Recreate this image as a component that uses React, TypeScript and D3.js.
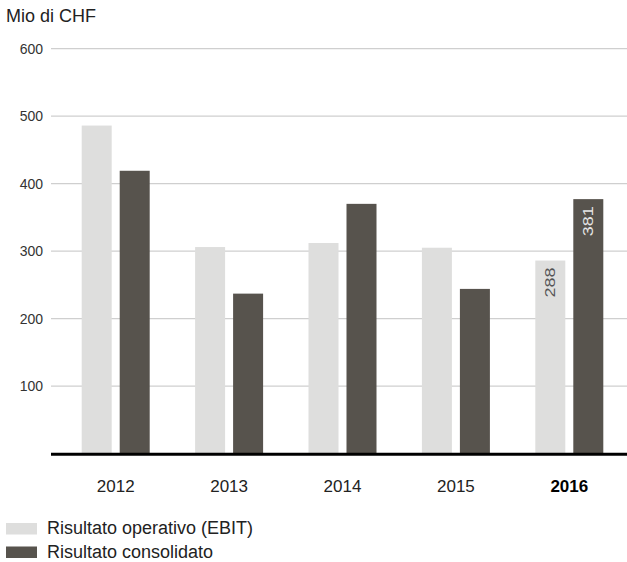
import React from 'react';
import * as d3 from 'd3';

const years = ['2012', '2013', '2014', '2015', '2016'];
const ebit = [486, 306, 312, 305, 286];
const consolidato = [419, 237, 370, 244, 377];
const barLabels2016 = ['288', '381'];
const yTicks = [100, 200, 300, 400, 500, 600];
const seriesNames = ['Risultato operativo (EBIT)', 'Risultato consolidato'];
const colors = ['#dededd', '#57534d'];

const W = 627;
const H = 562;
const font = '"Liberation Sans", Arial, sans-serif';

const App: React.FC = () => {
  const x = d3.scaleBand().domain(years).range([59, 626]);
  const sub = d3.scaleBand().domain(['ebit', 'cons']).range([-34, 34]).paddingInner(2 - 68 / 38);
  const y = d3.scaleLinear().domain([0, 600]).range([453.6, 48.6]);
  const series = [ebit, consolidato];
  const keys = ['ebit', 'cons'];

  return (
    <svg width={W} height={H} style={{ position: 'absolute', left: 0, top: 0 }} fontFamily={font}>
      <text x={6} y={22} fontSize={18} fill="#222">Mio di CHF</text>

      {/* gridlines + y labels */}
      {yTicks.map(t => (
        <g key={t}>
          <line x1={51} x2={W} y1={y(t)} y2={y(t)} stroke="#cfcfcf" strokeWidth={1.2} />
          <text x={43} y={y(t)} dy="0.35em" textAnchor="end" fontSize={14} fill="#333">{t}</text>
        </g>
      ))}

      {/* bars */}
      {years.map((yr, i) => {
        const cx = x(yr)! + x.bandwidth() / 2;
        return (
          <g key={yr}>
            {series.map((s, j) => (
              <rect
                key={j}
                x={cx + sub(keys[j])!}
                y={y(s[i])}
                width={sub.bandwidth()}
                height={y(0) - y(s[i])}
                fill={colors[j]}
              />
            ))}
          </g>
        );
      })}

      {/* value labels for 2016 */}
      {series.map((s, j) => {
        const bx = x('2016')! + x.bandwidth() / 2 + sub(keys[j])! + sub.bandwidth() / 2;
        const ty = y(s[4]) + 7;
        return (
          <text
            key={j}
            transform={`translate(${bx},${ty}) rotate(-90)`}
            textAnchor="end"
            dy="0.36em"
            fontSize={14}
            textLength={30}
            lengthAdjust="spacingAndGlyphs"
            fill={j === 0 ? '#555' : '#e6e6e6'}
          >
            {barLabels2016[j]}
          </text>
        );
      })}

      {/* baseline */}
      <line x1={51} x2={W} y1={454.3} y2={454.3} stroke="#000" strokeWidth={3} />

      {/* x labels */}
      {years.map((yr, i) => (
        <text
          key={yr}
          x={x(yr)! + x.bandwidth() / 2}
          y={492}
          textAnchor="middle"
          fontSize={17}
          fontWeight={i === years.length - 1 ? 'bold' : 'normal'}
          fill={i === years.length - 1 ? '#000' : '#222'}
        >
          {yr}
        </text>
      ))}

      {/* legend */}
      {seriesNames.map((n, j) => (
        <g key={n} transform={`translate(0,${j * 23.5})`}>
          <rect x={6} y={523} width={31} height={11.5} fill={colors[j]} />
          <text x={47} y={534} fontSize={18} fill="#222">{n}</text>
        </g>
      ))}
    </svg>
  );
};

export default App;
